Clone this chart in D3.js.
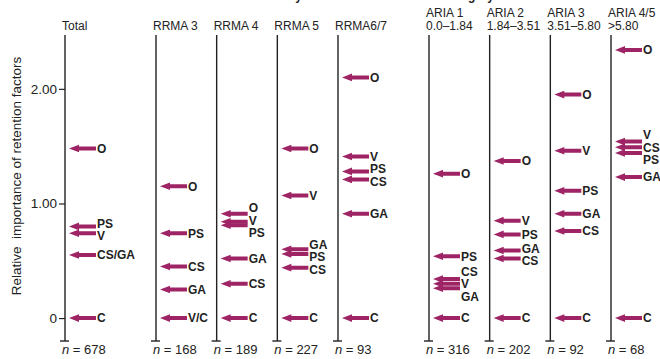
<!DOCTYPE html>
<html>
<head>
<meta charset="utf-8">
<script src="https://cdn.jsdelivr.net/npm/d3@7"></script>
<style>
  body { margin: 0; background: #fff; }
  svg { font-family: "Liberation Sans", Arial, sans-serif; }
</style>
</head>
<body>
<svg id="chart" width="660" height="359"></svg>
<script>
var width = 660,
    height = 359,
    arrowColor = "#9e2466",
    labelGap = 12.5;

// columns and headers
var columns = ["Total", "RRMA 3", "RRMA 4", "RRMA 5", "RRMA6/7", "ARIA 1", "ARIA 2", "ARIA 3", "ARIA 4/5"];
var columnSlots = [0, 1.5, 2.5, 3.5, 4.5, 6, 7, 8, 9];
var ariaRanges = ["", "", "", "", "", "0.0\u20131.84", "1.84\u20133.51", "3.51\u20135.80", ">5.80"];
var sampleSizes = [678, 168, 189, 227, 93, 316, 202, 92, 68];
var yTicks = [0, 1, 2];

// factor labels and relative importance per column
var factorsTotal = ["O", "PS", "V", "CS/GA", "C"];
var valuesTotal = [1.48, 0.80, 0.74, 0.55, 0];
var factorsRrma3 = ["O", "PS", "CS", "GA", "V/C"];
var valuesRrma3 = [1.15, 0.74, 0.45, 0.25, 0];
var factorsRrma4 = ["O", "V", "PS", "GA", "CS", "C"];
var valuesRrma4 = [0.91, 0.84, 0.81, 0.52, 0.30, 0];
var factorsRrma5 = ["O", "V", "GA", "PS", "CS", "C"];
var valuesRrma5 = [1.48, 1.07, 0.60, 0.56, 0.44, 0];
var factorsRrma67 = ["O", "V", "PS", "CS", "GA", "C"];
var valuesRrma67 = [2.10, 1.41, 1.28, 1.21, 0.91, 0];
var factorsAria1 = ["O", "PS", "CS", "V", "GA", "C"];
var valuesAria1 = [1.26, 0.54, 0.34, 0.30, 0.26, 0];
var factorsAria2 = ["O", "V", "PS", "GA", "CS", "C"];
var valuesAria2 = [1.37, 0.85, 0.73, 0.59, 0.52, 0];
var factorsAria3 = ["O", "V", "PS", "GA", "CS", "C"];
var valuesAria3 = [1.95, 1.46, 1.11, 0.91, 0.76, 0];
var factorsAria45 = ["O", "V", "CS", "PS", "GA", "C"];
var valuesAria45 = [2.34, 1.54, 1.49, 1.44, 1.23, 0];

var factorLists = [factorsTotal, factorsRrma3, factorsRrma4, factorsRrma5, factorsRrma67,
                   factorsAria1, factorsAria2, factorsAria3, factorsAria45];
var valueLists = [valuesTotal, valuesRrma3, valuesRrma4, valuesRrma5, valuesRrma67,
                  valuesAria1, valuesAria2, valuesAria3, valuesAria45];

var svg = d3.select("#chart");

var x = d3.scaleLinear().domain([0, 9]).range([65, 611]);
var y = d3.scaleLinear().domain([-0.2, 2.47]).range([341, 35]);

// titles sit above the picture's top edge, only descenders show
svg.append("text").attr("x", 302).attr("y", -0.5).attr("text-anchor", "end")
    .attr("font-size", 12).attr("font-weight", "bold").attr("fill", "#222")
    .text("Disease severity");
svg.append("text").attr("x", 494).attr("y", -0.5).attr("text-anchor", "end")
    .attr("font-size", 12).attr("font-weight", "bold").attr("fill", "#222")
    .text("ARIA category");

// y axis title
svg.append("text")
    .attr("transform", "translate(21," + 176 + ")rotate(-90)")
    .attr("text-anchor", "middle")
    .attr("font-size", 13.5)
    .attr("fill", "#222")
    .text("Relative\u00a0 importance of retention factors");

// y axis on the first column
var yAxis = svg.append("g")
    .attr("transform", "translate(" + x(columnSlots[0]) + ",0)")
    .call(d3.axisLeft(y).tickValues(yTicks).tickSize(6).tickPadding(2)
      .tickFormat(function(d) { return d === 0 ? "0" : d.toFixed(2); }));
yAxis.select(".domain").remove();
yAxis.selectAll("line").attr("stroke", "#222").attr("stroke-width", 1.2);
yAxis.selectAll("text").attr("font-size", 13.5).attr("fill", "#222")
    .attr("font-family", "Liberation Sans, Arial, sans-serif");

// spread crowded labels around the mean of their arrows
function placeLabels(ys, gap) {
  var order = d3.range(ys.length).sort(function(a, b) { return ys[a] - ys[b]; });
  var clusters = [];
  order.forEach(function(i) {
    clusters.push({idx: [i], sum: ys[i], top: ys[i]});
    while (clusters.length > 1) {
      var b = clusters[clusters.length - 1], a = clusters[clusters.length - 2];
      if (a.top + a.idx.length * gap > b.top) {
        var m = {idx: a.idx.concat(b.idx), sum: a.sum + b.sum};
        m.top = m.sum / m.idx.length - (m.idx.length - 1) * gap / 2;
        clusters.splice(-2, 2, m);
      } else break;
    }
  });
  var out = [];
  clusters.forEach(function(c) {
    c.idx.forEach(function(i, k) { out[i] = c.top + k * gap; });
  });
  return out;
}

function arrowPath(x0, yy) {
  var tip = x0 + 4, neck = tip + 10, end = tip + 27;
  return "M" + tip + "," + yy +
    "L" + neck + "," + (yy - 3.8) +
    "L" + neck + "," + (yy - 2) +
    "L" + end + "," + (yy - 2) +
    "L" + end + "," + (yy + 2) +
    "L" + neck + "," + (yy + 2) +
    "L" + neck + "," + (yy + 3.8) + "Z";
}

var col = svg.selectAll("g.col")
    .data(columns)
  .enter().append("g")
    .attr("class", "col")
    .attr("transform", function(d, i) { return "translate(" + x(columnSlots[i]) + ",0)"; });

col.append("line")
    .attr("x1", 0).attr("x2", 0)
    .attr("y1", y(2.47)).attr("y2", y(-0.2))
    .attr("stroke", "#222").attr("stroke-width", 1.4);

col.append("line")
    .attr("x1", -5).attr("x2", 4)
    .attr("y1", y(-0.2)).attr("y2", y(-0.2))
    .attr("stroke", "#222").attr("stroke-width", 1.4);

// headers
col.append("text")
    .attr("x", -3)
    .attr("y", function(d, i) { return ariaRanges[i] ? 17 : 30; })
    .attr("font-size", 12).attr("fill", "#222")
    .text(function(d) { return d; });
col.filter(function(d, i) { return ariaRanges[i]; })
  .append("text")
    .attr("x", -3).attr("y", 30)
    .attr("font-size", 12).attr("fill", "#222")
    .text(function(d) { return ariaRanges[columns.indexOf(d)]; });

// sample sizes
var nText = col.append("text")
    .attr("x", -3).attr("y", 354)
    .attr("font-size", 13).attr("fill", "#222");
nText.append("tspan").attr("font-style", "italic").text("n");
nText.append("tspan").text(function(d, i) { return "\u00a0=\u00a0" + sampleSizes[i]; });

// arrows and labels
col.each(function(d, i) {
  var g = d3.select(this);
  var vals = valueLists[i], labs = factorLists[i];
  var ys = vals.map(function(v) { return y(v); });
  var labelY = placeLabels(ys, labelGap);

  g.selectAll("path.arrow")
      .data(vals)
    .enter().append("path")
      .attr("class", "arrow")
      .attr("d", function(v) { return arrowPath(0, y(v)); })
      .attr("fill", arrowColor);

  g.selectAll("text.lab")
      .data(labs)
    .enter().append("text")
      .attr("class", "lab")
      .attr("x", 32)
      .attr("y", function(l, k) { return labelY[k]; })
      .attr("dy", "0.36em")
      .attr("font-size", 12).attr("font-weight", "bold").attr("fill", "#222")
      .text(function(l) { return l; });
});
</script>
</body>
</html>
